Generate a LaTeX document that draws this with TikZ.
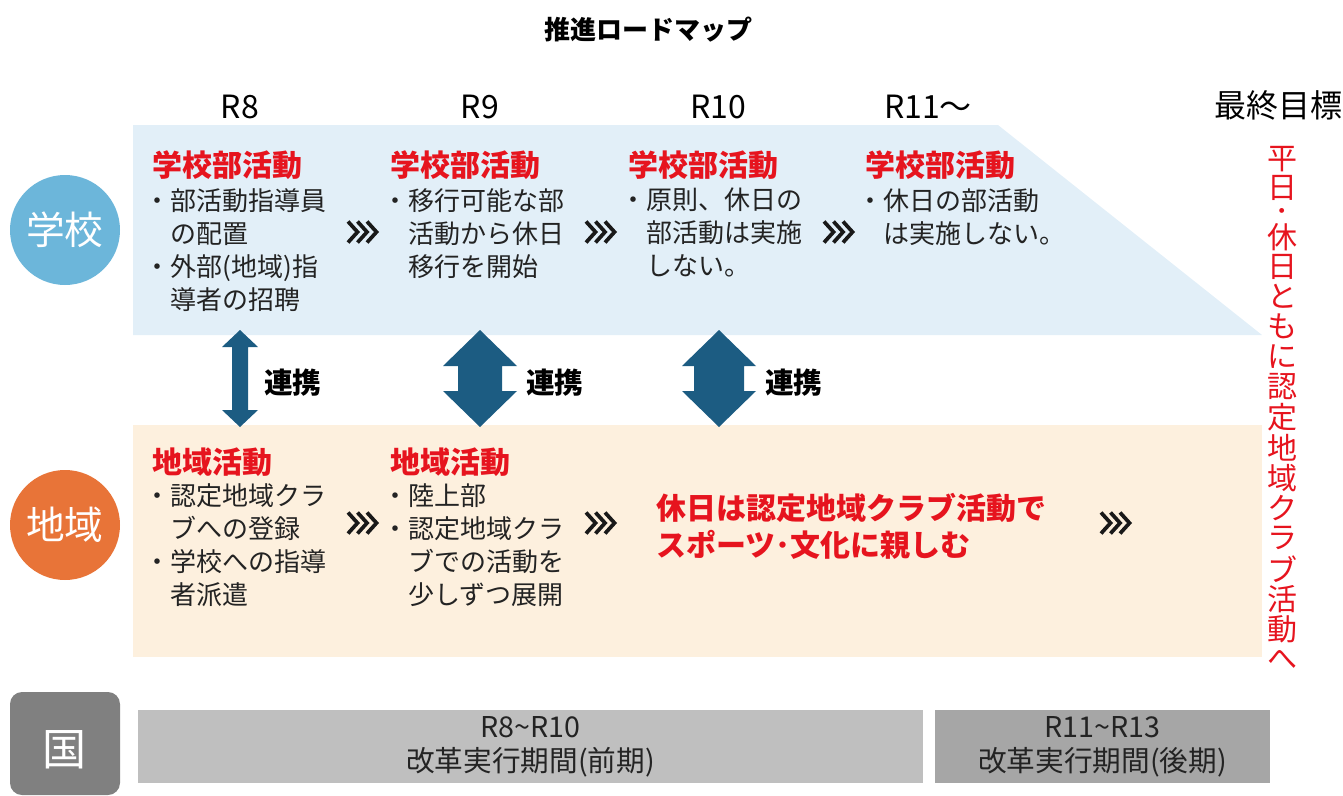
\documentclass[tikz,border=0pt]{standalone}
\usepackage{fontspec}
\setmainfont{Noto Sans CJK JP}
\usetikzlibrary{positioning}

\definecolor{schoolbg}{RGB}{226,239,248}
\definecolor{areabg}{RGB}{253,240,222}
\definecolor{schoolc}{RGB}{108,182,218}
\definecolor{areac}{RGB}{232,116,56}
\definecolor{kunic}{RGB}{128,128,128}
\definecolor{barA}{RGB}{191,191,191}
\definecolor{barB}{RGB}{166,166,166}
\definecolor{linkc}{RGB}{28,92,130}
\definecolor{redc}{RGB}{230,20,30}
\definecolor{textc}{RGB}{35,35,35}

\newcommand{\bul}{\makebox[0.7em][l]{\hspace{-0.3em}・}}
\newcommand{\ind}{\hspace*{0.7em}}
% block arrow between the two bands: x, half head, half shaft, head length
\newcommand{\linkarrow}[4]{%
  \fill[linkc] (#1,330) -- ({#1+#2},{330+#4}) -- ({#1+#3},{330+#4}) -- ({#1+#3},{427-#4})
    -- ({#1+#2},{427-#4}) -- (#1,427) -- ({#1-#2},{427-#4}) -- ({#1-#3},{427-#4})
    -- ({#1-#3},{330+#4}) -- ({#1-#2},{330+#4}) -- cycle;}

\tikzset{
  head/.style={anchor=west, inner sep=0, text=redc, font=\bfseries\fontsize{22.5}{26}\selectfont},
  body/.style={anchor=north west, inner sep=0, align=left, text=textc, font=\fontsize{19.5}{24.75}\selectfont},
  year/.style={inner sep=0, text=black, font=\fontsize{24}{26}\selectfont},
  link/.style={anchor=west, inner sep=0, text=black, font=\bfseries\fontsize{21.5}{24}\selectfont},
  badge/.style={circle, minimum size=82.5pt, inner sep=0, text=white, font=\fontsize{29}{32}\selectfont},
  period/.style={minimum height=54.75pt, inner sep=0, align=center, text=textc, font=\fontsize{21.5}{25.5}\selectfont},
  vert/.style={inner sep=0, text=redc, font=\fontsize{22.5}{24}\selectfont},
  chev/.pic={\foreach \k in {0,1,2}
    \draw[line width=2.8pt, black!90] ({\k*9.5-14},-10.5) -- ({\k*9.5-4.5},0) -- ({\k*9.5-14},10.5);}
}

\begin{document}
\begin{tikzpicture}[x=0.75pt, y=-0.75pt]
\useasboundingbox (0,0) rectangle (1343,796);

% bands
\fill[schoolbg] (133,125) -- (998,125) -- (1262,335) -- (133,335) -- cycle;
\fill[areabg] (133,425) rectangle (1262,657);

\node[font=\bfseries\fontsize{19.5}{24}\selectfont] (title) at (648,30) {推進ロードマップ};

\node[year] (y8) at (240,107) {R8};
\node[year] (y9) at (480,107) {R9};
\node[year] (y10) at (718,107) {R10};
\node[year] (y11) at (928,107) {R11～};
\node[year] (goal) at (1278,105) {最終目標};

\node[badge, fill=schoolc] (school) at (65,230) {学校};
\node[badge, fill=areac] (area) at (65,525) {地域};
\node[fill=kunic, rounded corners=9pt, minimum width=82.5pt, minimum height=77.25pt] (kuni) at (65,743.5) {};
\node[inner sep=0, text=white, font=\fontsize{33}{34}\selectfont] (kunit) at (64,750) {国};

% school club activities
\node[head] (s1h) at (152,165) {学校部活動};
\node[body] (s1) at (152,188) {\bul 部活動指導員\\\ind の配置\\\bul 外部(地域)指\\\ind 導者の招聘};
\node[head] (s2h) at (390,165) {学校部活動};
\node[body] (s2) at (390,188) {\bul 移行可能な部\\\ind 活動から休日\\\ind 移行を開始};
\node[head] (s3h) at (628,165) {学校部活動};
\node[body] (s3) at (628,188) {\bul 原則、休日の\\\ind 部活動は実施\\\ind しない。};
\node[head] (s4h) at (865,165) {学校部活動};
\node[body] (s4) at (865,188) {\bul 休日の部活動\\\ind は実施しない。};

\pic at (362,232) {chev};
\pic at (600,232) {chev};
\pic at (838,232) {chev};

% links
\linkarrow{240}{18}{8}{17}
\linkarrow{480}{37}{22}{36}
\linkarrow{719}{37}{25}{36}
\node[link] (l1) at (264,383) {連携};
\node[link] (l2) at (526,383) {連携};
\node[link] (l3) at (765,383) {連携};

% local activities
\node[head] (a1h) at (152,462) {地域活動};
\node[body] (a1) at (152,483) {\bul 認定地域クラ\\\ind ブへの登録\\\bul 学校への指導\\\ind 者派遣};
\node[head] (a2h) at (390,462) {地域活動};
\node[body] (a2) at (390,483) {\bul 陸上部\\\bul 認定地域クラ\\\ind ブでの活動を\\\ind 少しずつ展開};
\node[anchor=west, inner sep=0, align=left, text=redc, font=\bfseries\fontsize{22.5}{27.75}\selectfont]
  (a3) at (656,526) {休日は認定地域クラブ活動で\\スポーツ･文化に親しむ};

\pic at (362,523) {chev};
\pic at (600,523) {chev};
\pic at (1115,523) {chev};

% final goal
\node[vert] (g1) at (1282,159) {平};
\node[vert] (g2) at (1282,188) {日};
\node[vert, font=\bfseries\fontsize{13}{13}\selectfont] (g3) at (1282,213) {・};
\node[vert] (g4) at (1282,237) {休};
\node[vert] (g5) at (1282,267) {日};
\foreach \c [count=\i from 0] in {と,も,に,認,定,地,域,ク,ラ,ブ,活,動,へ}
  \node[vert] (v\i) at (1282,{296+30.3*\i}) {\c};

% national periods
\node[period, fill=barA, minimum width=588.75pt] (p1) at (530.5,746.5) {R8\textasciitilde R10\\改革実行期間(前期)};
\node[period, fill=barB, minimum width=251.25pt] (p2) at (1102.5,746.5) {R11\textasciitilde R13\\改革実行期間(後期)};
\end{tikzpicture}
\end{document}
